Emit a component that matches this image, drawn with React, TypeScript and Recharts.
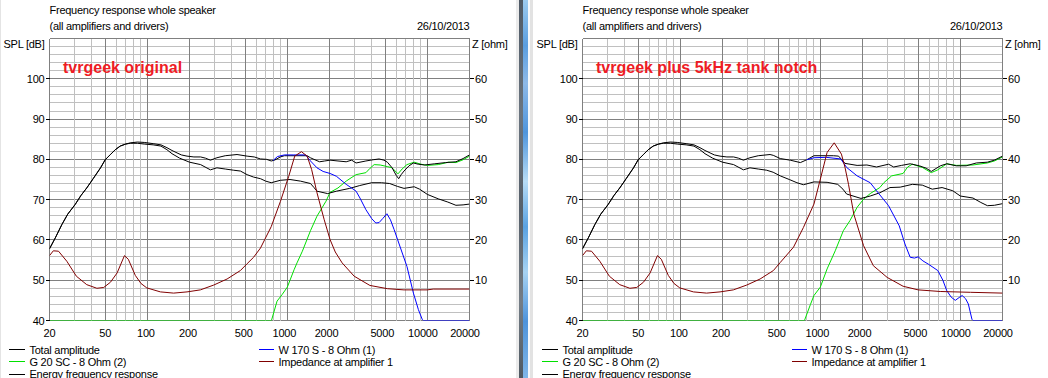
import React from 'react';
import { LineChart, Line, XAxis, YAxis, CartesianGrid } from 'recharts';

type Pt = [number, number];

// axis ticks / grid values
const freqTicks = [20, 50, 100, 200, 500, 1000, 2000, 5000, 10000, 20000];
const freqMinor = [30, 40, 60, 70, 80, 90, 300, 400, 600, 700, 800, 900, 3000, 4000, 6000, 7000, 8000, 9000];
const splTicks = [40, 50, 60, 70, 80, 90, 100];
const splMajor = [40, 50, 60, 70, 80, 90, 100, 110];
const splMinor = [42, 44, 46, 48, 52, 54, 56, 58, 62, 64, 66, 68, 72, 74, 76, 78, 82, 84, 86, 88, 92, 94, 96, 98, 102, 104, 106, 108];
const zTicks = [10, 20, 30, 40, 50, 60];

const legendCol1 = ['Total amplitude', 'G 20 SC - 8 Ohm (2)', 'Energy frequency response'];
const legendCol2 = ['W 170 S - 8 Ohm (1)', 'Impedance at amplifier 1'];

// low frequency part, identical in both simulations
const totalLow: Pt[] = [
  [20, 57.8], [22, 60.5], [24.5, 63.8], [27, 66.4], [30.5, 68.8], [33.5, 71.0], [36.9, 72.9], [41, 75.2],
  [46.3, 77.9], [50, 79.9], [54.5, 81.2], [59, 82.4], [64, 83.3], [70, 83.8], [75.8, 84.1], [85, 84.3],
  [95, 84.2], [110, 83.9], [125, 83.6], [138, 82.9], [150, 82.2], [163, 81.6], [175, 81.1], [192, 80.8],
  [215, 80.6], [240, 80.6], [260, 80.3], [282, 79.8], [314, 80.4], [360, 80.9], [437, 81.2],
];
const energyLow: Pt[] = [
  [20, 57.8], [22, 60.5], [24.5, 63.8], [27, 66.4], [30.5, 68.8], [33.5, 71.0], [36.9, 72.9], [41, 75.2],
  [46.3, 77.9], [50, 79.9], [54.5, 81.2], [59, 82.4], [64, 83.3], [70, 83.8], [75.8, 84.0], [85, 84.0],
  [95, 83.8], [110, 83.6], [125, 83.3], [138, 82.4], [150, 81.4], [170, 80.3], [200, 79.3], [240, 78.7],
  [282, 77.4], [314, 77.9], [360, 77.6], [414, 77.3],
];
const impedanceLow: Pt[] = [
  [20, 16.1], [21.3, 17.3], [23.2, 17.2], [26.6, 14.7], [31.1, 11.0], [36.9, 8.9], [43.6, 8.0], [48.8, 8.2],
  [54.5, 9.5], [60.8, 11.8], [68.6, 16.1], [73.1, 15.2], [82, 11.2], [90, 9.2], [99, 8.1], [124, 7.1],
  [154, 6.8], [192, 7.1], [239, 7.6], [298, 8.8], [371, 10.3], [462, 12.4],
];

// tvrgeek original
const totalOrig: Pt[] = [
  ...totalLow,
  [516, 80.8], [580, 80.6], [643, 80.1], [711, 80.0], [767, 79.6], [810, 79.8], [891, 80.6], [952, 80.9],
  [1045, 80.9], [1385, 80.9], [1460, 80.4], [1548, 80.0], [1700, 79.4], [1850, 79.6], [2018, 79.8],
  [2300, 79.6], [2631, 79.4], [2880, 79.8], [3096, 79.1], [3640, 79.6], [4100, 79.9], [4520, 80.1],
  [4900, 79.8], [5181, 79.3], [5600, 77.9], [6000, 76.0], [6240, 75.2], [6500, 76.2], [6810, 77.1],
  [7400, 78.4], [7950, 79.1], [8600, 78.8], [9560, 78.6], [11300, 78.9], [13500, 79.2], [16000, 79.4],
  [18000, 80.2], [20000, 81.1],
];
const energyOrig: Pt[] = [
  ...energyLow,
  [462, 77.1], [516, 76.2], [574, 75.6], [643, 75.2], [700, 74.6], [767, 74.2], [891, 74.8], [1045, 75.0],
  [1240, 74.6], [1463, 74.0], [1550, 73.0], [1628, 72.1], [1940, 71.5], [2241, 72.1], [2790, 72.8],
  [3290, 73.5], [4000, 74.2], [4700, 74.2], [5380, 74.0], [6100, 73.3], [6810, 72.8], [8050, 73.2],
  [8800, 72.6], [10000, 71.3], [11960, 70.2], [14000, 69.4], [16000, 68.6], [18000, 68.7], [20000, 68.9],
];
const wooferOrig: Pt[] = [
  [790, 79.7], [850, 80.7], [952, 81.1], [1100, 81.1], [1350, 81.1], [1463, 79.6], [1628, 77.9],
  [1800, 77.0], [2018, 76.5], [2241, 75.8], [2631, 73.8], [2900, 72.8], [3096, 72.1], [3300, 70.4],
  [3640, 67.5], [4000, 65.3], [4282, 64.2], [4520, 64.3], [4800, 65.3], [5140, 66.5], [5450, 65.0],
  [5786, 62.6], [6430, 58.0], [7150, 53.4], [7950, 46.8], [8630, 42.7], [9210, 40.2], [9350, 40],
  [20000, 40],
];
const tweeterOrig: Pt[] = [
  [20, 40], [770, 40], [844, 44.8], [920, 46.5], [1000, 48.3], [1117, 52.6], [1172, 54.3], [1280, 57.2],
  [1463, 62.3], [1628, 65.9], [1887, 69.6], [2018, 71.8], [2300, 72.9], [2631, 74.6], [2850, 75.4],
  [3096, 76.2], [3640, 76.7], [3900, 77.8], [4170, 78.7], [4600, 78.6], [5181, 78.2], [5600, 77.9],
  [6170, 76.4], [6600, 77.6], [7150, 78.7], [8050, 79.3], [9000, 78.8], [10000, 78.5], [11960, 78.7],
  [14170, 79.3], [16000, 79.2], [18000, 79.9], [20000, 80.8],
];
const impedanceOrig: Pt[] = [
  ...impedanceLow,
  [516, 14.1], [574, 15.7], [643, 18.0], [767, 23.3], [891, 29.5], [1023, 35.8], [1129, 40.8],
  [1260, 41.9], [1385, 40.8], [1490, 37.5], [1628, 31.7], [1834, 25.0], [2018, 20.1], [2200, 17.0],
  [2462, 14.3], [3000, 11.0], [3888, 8.7], [5181, 7.9], [6808, 7.6], [10000, 7.6], [11000, 7.8],
  [20000, 7.8],
];

// tvrgeek plus 5kHz tank notch
const totalNotch: Pt[] = [
  ...totalLow,
  [461, 81.0], [517, 80.2], [609, 79.8], [720, 79.2], [800, 79.9], [900, 80.9], [1240, 80.9],
  [1350, 80.8], [1500, 79.0], [1830, 78.5], [2150, 78.6], [2520, 78.1], [3070, 78.8], [3340, 78.1],
  [3800, 78.5], [4380, 78.9], [5100, 78.4], [5700, 77.8], [6200, 77.0], [7200, 78.4], [8000, 78.9],
  [9350, 78.4], [11000, 78.4], [13000, 79.1], [15600, 79.3], [17500, 79.8], [20000, 80.8],
];
const energyNotch: Pt[] = [
  ...energyLow,
  [460, 76.8], [517, 75.9], [600, 75.0], [680, 74.2], [757, 73.7], [900, 74.4], [1117, 74.3],
  [1330, 73.8], [1450, 72.6], [1540, 71.4], [1950, 70.3], [2270, 70.9], [2660, 71.7], [3140, 73.0],
  [3720, 73.1], [4540, 73.8], [5350, 73.6], [6300, 72.6], [7400, 73.0], [8830, 72.2], [10000, 70.9],
  [12300, 70.4], [14000, 69.3], [15600, 68.5], [17500, 68.6], [20000, 69.0],
];
const wooferNotch: Pt[] = [
  [800, 79.9], [900, 80.4], [1100, 80.5], [1400, 80.1], [1540, 78.0], [1830, 75.9], [2270, 74.2],
  [2520, 72.2], [3070, 68.5], [3660, 63.5], [4020, 59.0], [4380, 55.7], [4700, 55.5], [5000, 55.8],
  [5400, 54.8], [5900, 54.0], [6900, 52.4], [7500, 50.0], [8000, 47.4], [8600, 45.8], [9200, 45.0],
  [9800, 45.7], [10300, 46.2], [10900, 45.4], [11400, 44.1], [12100, 40.3], [12300, 40], [20000, 40],
];
const tweeterNotch: Pt[] = [
  [20, 40], [770, 40], [850, 44.0], [900, 46.2], [1000, 48.3], [1117, 52.8], [1277, 57.3], [1460, 62.3],
  [1628, 64.8], [1830, 68.1], [2034, 70.1], [2270, 71.5], [2660, 73.0], [2840, 74.2], [3230, 75.9],
  [3900, 76.5], [4200, 78.1], [4540, 78.8], [5350, 78.0], [6200, 76.7], [6900, 77.4], [8000, 78.9],
  [9350, 78.5], [12300, 78.6], [15600, 79.1], [17500, 79.6], [20000, 80.6],
];
const impedanceNotch: Pt[] = [
  ...impedanceLow,
  [517, 14.4], [643, 18.2], [757, 23.1], [900, 28.9], [1000, 35.1], [1117, 41.7], [1256, 44.1],
  [1414, 41.3], [1500, 38.0], [1589, 33.8], [1734, 26.4], [2034, 18.6], [2390, 13.6], [3000, 10.7],
  [3900, 8.5], [5000, 7.6], [7180, 7.2], [11800, 7.0], [20000, 6.8],
];

const BLACK = '#000000';
const BLUE = '#0000ff';
const GREEN = '#00e000';
const MAROON = '#800000';
const GRID_MAJOR = '#808080';
const GRID_MINOR = '#c0c0c0';
const LABEL_RED = '#ee1c25';
const FONT = "'Liberation Sans', Arial, sans-serif";

const W = 516;
const H = 378;

const gridFreqs = [...freqMinor, ...freqTicks];
const gridSpl = [...splMinor, ...splMajor];

const rows = (pts: Pt[]) => pts.map(([f, v]) => ({ f, v }));

const vLine = (p: any) => (
  <line
    key={p.key ?? `v-${p.index}`}
    x1={p.x1} y1={p.y1} x2={p.x2} y2={p.y2}
    stroke={gridFreqs[p.index] !== undefined && freqTicks.includes(gridFreqs[p.index]) ? GRID_MAJOR : GRID_MINOR}
    strokeWidth={1}
    shapeRendering="crispEdges"
  />
);
const hLine = (p: any) => (
  <line
    key={p.key ?? `h-${p.index}`}
    x1={p.x1} y1={p.y1} x2={p.x2} y2={p.y2}
    stroke={gridSpl[p.index] !== undefined && splMajor.includes(gridSpl[p.index]) ? GRID_MAJOR : GRID_MINOR}
    strokeWidth={1}
    shapeRendering="crispEdges"
  />
);

function FreqTick({ x, y, payload }: any) {
  const s = String(payload.value);
  return (
    <text x={x - (s.length - 2) * 1.5} y={y + 16.5} textAnchor="middle" fontSize={11} fill="#000" letterSpacing={-0.2}>
      {s}
    </text>
  );
}
function LeftTick({ x, y, payload }: any) {
  return (
    <text x={x} y={y + 4} textAnchor="end" fontSize={11} fill="#000" letterSpacing={-0.2}>
      {payload.value}
    </text>
  );
}
function RightTick({ x, y, payload }: any) {
  return (
    <text x={x} y={y + 4} textAnchor="start" fontSize={11} fill="#000" letterSpacing={-0.2}>
      {payload.value}
    </text>
  );
}

interface PanelProps {
  left: number;
  label: string;
  total: Pt[];
  energy: Pt[];
  woofer: Pt[];
  tweeter: Pt[];
  impedance: Pt[];
}

function Panel({ left, label, total, energy, woofer, tweeter, impedance }: PanelProps) {
  const lineProps = { type: 'linear' as const, dataKey: 'v', dot: false, activeDot: false, strokeWidth: 1, isAnimationActive: false };
  const legendRows = [349.5, 361.5, 374];
  return (
    <div style={{ position: 'absolute', left, top: 0, width: W, height: H, overflow: 'hidden' }}>
      <LineChart width={W} height={H} margin={{ top: 38.5, right: 0, bottom: 27.5, left: 0 }}>
        <CartesianGrid
          yAxisId="spl"
          verticalValues={gridFreqs}
          horizontalValues={gridSpl}
          vertical={vLine}
          horizontal={hLine}
        />
        <XAxis
          type="number"
          dataKey="f"
          scale="log"
          domain={[20, 20000]}
          allowDataOverflow
          ticks={freqTicks}
          interval={0}
          tick={<FreqTick />}
          tickLine={false}
          axisLine={false}
          tickSize={0}
          tickMargin={0}
          height={30}
        />
        <YAxis
          yAxisId="spl"
          type="number"
          domain={[40, 110]}
          allowDataOverflow
          ticks={splTicks}
          interval={0}
          width={49.5}
          tickSize={4}
          tickMargin={1}
          axisLine={false}
          tickLine={{ stroke: '#000', shapeRendering: 'crispEdges' }}
          tick={<LeftTick />}
        />
        <YAxis
          yAxisId="z"
          orientation="right"
          type="number"
          domain={[0, 70]}
          allowDataOverflow
          ticks={zTicks}
          interval={0}
          width={46.5}
          tickSize={4}
          tickMargin={1.5}
          axisLine={false}
          tickLine={{ stroke: '#000', shapeRendering: 'crispEdges' }}
          tick={<RightTick />}
        />
        <Line {...lineProps} yAxisId="spl" data={rows(tweeter)} stroke={GREEN} />
        <Line {...lineProps} yAxisId="spl" data={rows(energy)} stroke={BLACK} />
        <Line {...lineProps} yAxisId="spl" data={rows(total)} stroke={BLACK} />
        <Line {...lineProps} yAxisId="spl" data={rows(woofer)} stroke={BLUE} />
        <Line {...lineProps} yAxisId="z" data={rows(impedance)} stroke={MAROON} />
      </LineChart>
      <svg
        width={W}
        height={H}
        style={{ position: 'absolute', left: 0, top: 0, pointerEvents: 'none', fontFamily: FONT }}
        fontSize={11}
        letterSpacing={-0.25}
      >
        <text x={49.5} y={14}>Frequency response whole speaker</text>
        <text x={49.5} y={30}>(all amplifiers and drivers)</text>
        <text x={469.5} y={30} textAnchor="end">26/10/2013</text>
        <text x={44.5} y={47.5} textAnchor="end">SPL [dB]</text>
        <text x={472} y={47.5}>Z [ohm]</text>
        <text x={63} y={72.5} fontSize={16} fontWeight="bold" fill={LABEL_RED} letterSpacing={0}>
          {label}
        </text>
        {legendCol1.map((t, i) => (
          <g key={t}>
            <line x1={9} x2={25} y1={legendRows[i]} y2={legendRows[i]} stroke={i === 1 ? GREEN : BLACK} shapeRendering="crispEdges" />
            <text x={29.5} y={legendRows[i] + 4}>{t}</text>
          </g>
        ))}
        {legendCol2.map((t, i) => (
          <g key={t}>
            <line x1={259} x2={274} y1={legendRows[i]} y2={legendRows[i]} stroke={i === 0 ? BLUE : MAROON} shapeRendering="crispEdges" />
            <text x={278.5} y={legendRows[i] + 4}>{t}</text>
          </g>
        ))}
      </svg>
    </div>
  );
}

export default function App() {
  return (
    <div style={{ position: 'absolute', left: 0, top: 0, width: 1048, height: 378, background: '#fff', overflow: 'hidden', fontFamily: FONT }}>
      <div style={{ position: 'absolute', left: 0, top: 0, width: 1, height: H, background: '#e4e4e4' }} />
      <Panel left={0} label="tvrgeek original" total={totalOrig} energy={energyOrig} woofer={wooferOrig} tweeter={tweeterOrig} impedance={impedanceOrig} />
      <Panel left={533} label="tvrgeek plus 5kHz tank notch" total={totalNotch} energy={energyNotch} woofer={wooferNotch} tweeter={tweeterNotch} impedance={impedanceNotch} />
      {/* window border between the two screenshots */}
      <div style={{ position: 'absolute', left: 516, top: 0, width: 3, height: H, background: '#ebebeb' }} />
      <div style={{ position: 'absolute', left: 519, top: 0, width: 4, height: H, background: 'linear-gradient(180deg, #4f5a66 0%, #6b7580 30%, #56606b 55%, #747d86 80%, #4f5962 100%)' }} />
      <div style={{ position: 'absolute', left: 523, top: 0, width: 5, height: H, background: 'linear-gradient(180deg, #9ccbef 0%, #5a9ee0 12%, #8db9e8 22%, #4f95dc 35%, #b7dcf6 48%, #5aa2e2 60%, #a6d2f2 72%, #4e93da 85%, #7fb6e8 100%)' }} />
      <div style={{ position: 'absolute', left: 528, top: 0, width: 2, height: H, background: '#f6f9fc' }} />
      <div style={{ position: 'absolute', left: 530, top: 0, width: 3, height: H, background: '#e2e2e2' }} />
    </div>
  );
}
